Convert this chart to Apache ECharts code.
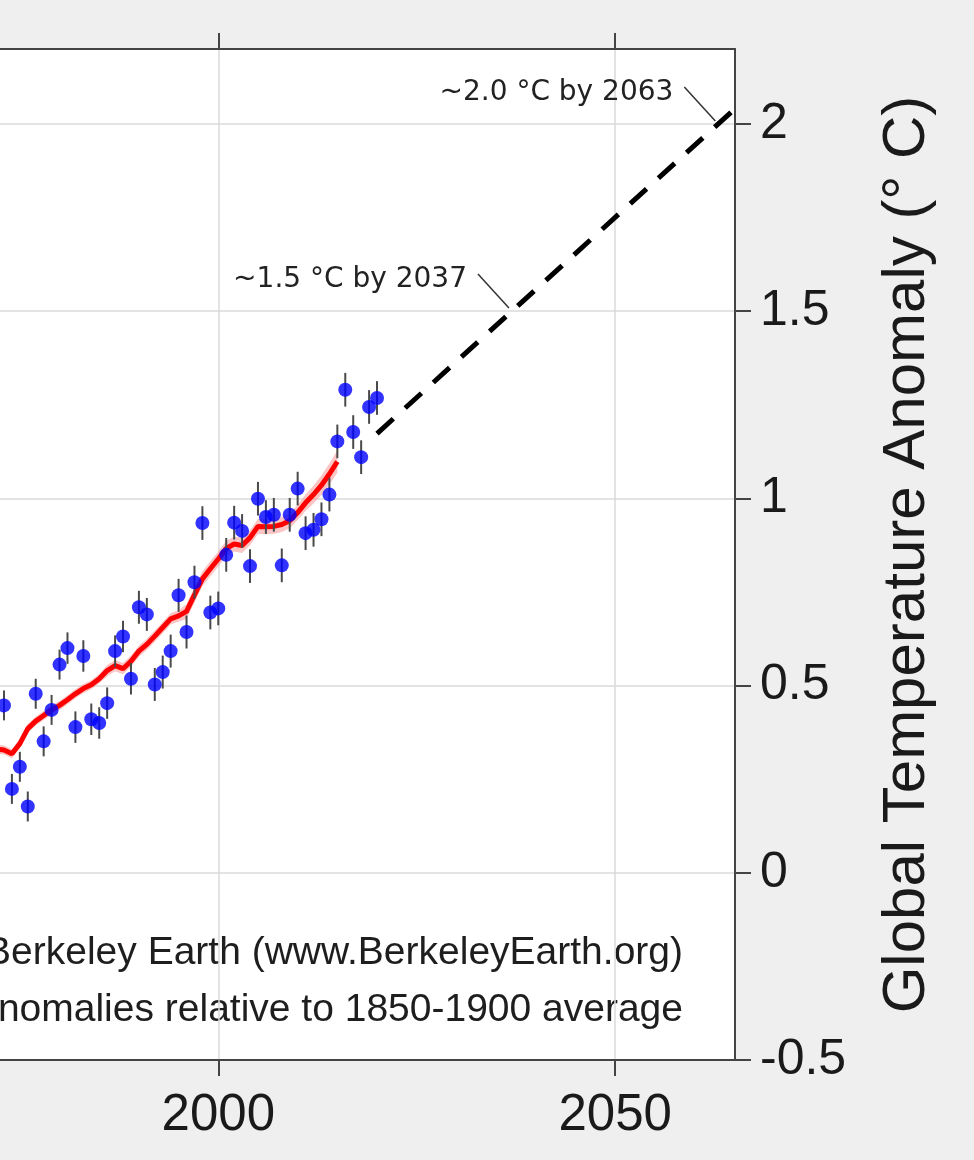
<!DOCTYPE html>
<html><head><meta charset="utf-8">
<script src="https://cdn.jsdelivr.net/npm/echarts@6/dist/echarts.min.js"></script>
<style>html,body{margin:0;padding:0;background:#efefef}#c{width:974px;height:1160px}</style>
</head><body><div id="c"></div>
<script>
// Annual anomalies (°C, relative to 1850-1900)
const years = [1973,1974,1975,1976,1977,1978,1979,1980,1981,1982,1983,1984,1985,1986,1987,1988,1989,1990,1991,1992,1993,1994,1995,1996,1997,1998,1999,2000,2001,2002,2003,2004,2005,2006,2007,2008,2009,2010,2011,2012,2013,2014,2015,2016,2017,2018,2019,2020];
const anomaly = [0.447,0.224,0.283,0.177,0.478,0.351,0.435,0.556,0.600,0.389,0.579,0.410,0.400,0.453,0.592,0.631,0.518,0.709,0.690,0.503,0.536,0.592,0.741,0.643,0.776,0.934,0.695,0.706,0.849,0.935,0.913,0.819,0.999,0.950,0.956,0.821,0.956,1.026,0.907,0.916,0.944,1.010,1.152,1.290,1.177,1.110,1.244,1.268];
const anomalyErr = [0.040,0.040,0.040,0.040,0.040,0.040,0.040,0.040,0.042,0.042,0.042,0.042,0.042,0.042,0.042,0.042,0.042,0.044,0.044,0.044,0.044,0.044,0.044,0.044,0.044,0.045,0.045,0.045,0.045,0.045,0.045,0.045,0.045,0.045,0.045,0.045,0.045,0.045,0.045,0.045,0.045,0.045,0.045,0.045,0.045,0.045,0.045,0.045];
// 10-year moving average and its uncertainty
const smoothYears = [1972,1973,1974,1975,1976,1977,1978,1979,1980,1981,1982,1983,1984,1985,1986,1987,1988,1989,1990,1991,1992,1993,1994,1995,1996,1997,1998,1999,2000,2001,2002,2003,2004,2005,2006,2007,2008,2009,2010,2011,2012,2013,2014,2015];
const smoothValues = [0.330,0.328,0.318,0.345,0.385,0.405,0.420,0.435,0.447,0.462,0.478,0.492,0.502,0.518,0.540,0.553,0.545,0.565,0.592,0.610,0.632,0.655,0.678,0.686,0.698,0.742,0.785,0.812,0.838,0.866,0.878,0.874,0.895,0.925,0.924,0.925,0.930,0.940,0.962,0.988,1.010,1.035,1.065,1.098];
const smoothUnc = [0.012,0.012,0.012,0.012,0.012,0.012,0.012,0.012,0.012,0.012,0.012,0.012,0.012,0.012,0.015,0.015,0.015,0.015,0.015,0.015,0.015,0.015,0.015,0.015,0.020,0.020,0.020,0.020,0.020,0.020,0.020,0.020,0.020,0.020,0.020,0.020,0.020,0.020,0.020,0.022,0.024,0.026,0.028,0.030];
// Projection
const projectionYears = [2020, 2066];
const projectionValues = [1.173, 2.058];
const milestoneYears = [2063, 2037];
const milestoneValues = [2.0, 1.5];
const milestoneLabels = ['~2.0 °C by 2063', '~1.5 °C by 2037'];
const xTickYears = [2000, 2050];
const noteLines = ['Berkeley Earth (www.BerkeleyEarth.org)', 'Temperature anomalies relative to 1850-1900 average'];
const yAxisTitle = 'Global Temperature Anomaly (° C)';

const FONT = '"Liberation Sans", Arial, Helvetica, sans-serif';
const chart = echarts.init(document.getElementById('c'));

const axisLineStyle = { color: '#444', width: 2 };
const tickStyle = { color: '#444', width: 2 };
const splitStyle = { color: '#dadada', width: 1.5 };
const X_MIN = 1972.5, X_MAX = 2065.1;

chart.setOption({
  backgroundColor: '#efefef',
  animation: false,
  grid: { left: 0, right: 239, top: 49, bottom: 100, show: true, backgroundColor: '#ffffff', borderWidth: 0, containLabel: false },
  xAxis: [{
    type: 'value', position: 'bottom', min: X_MIN, max: X_MAX,
    axisLine: { show: true, onZero: false, lineStyle: axisLineStyle },
    axisTick: { show: true, inside: false, length: 16, customValues: xTickYears, lineStyle: tickStyle },
    axisLabel: { show: true, customValues: xTickYears, margin: 30, fontSize: 51, fontFamily: FONT, color: '#1a1a1a',
      formatter: v => String(v) },
    splitLine: { show: true, lineStyle: splitStyle }
  }, {
    type: 'value', position: 'top', min: X_MIN, max: X_MAX,
    axisLine: { show: true, onZero: false, lineStyle: axisLineStyle },
    axisTick: { show: true, inside: false, length: 16, customValues: xTickYears, lineStyle: tickStyle },
    axisLabel: { show: false },
    splitLine: { show: false }
  }],
  yAxis: [{
    type: 'value', position: 'right', min: -0.5, max: 2.2, interval: 0.5,
    axisLine: { show: true, onZero: false, lineStyle: axisLineStyle },
    axisTick: { show: true, inside: false, length: 16, lineStyle: tickStyle },
    axisLabel: { show: true, showMaxLabel: false, margin: 25, fontSize: 50, fontFamily: FONT, color: '#1a1a1a',
      formatter: v => (Math.abs(v * 2 - Math.round(v * 2)) < 1e-6 ? String(v) : '') },
    splitLine: { show: true, lineStyle: splitStyle },
    name: yAxisTitle, nameLocation: 'middle', nameRotate: 90, nameGap: 142,
    nameTextStyle: { fontSize: 60, fontFamily: FONT, color: '#1a1a1a' }
  }],
  graphic: noteLines.map((t, i) => ({
    type: 'text', right: 291, top: 934 + i * 57,
    style: { text: t, font: '39px ' + FONT, fill: '#1e1e1e' }
  })),
  series: [
    {
      type: 'custom', name: 'band', z: 2,
      data: [[smoothYears[0], smoothValues[0]]],
      renderItem: (params, api) => {
        const pts = [];
        for (let i = 0; i < smoothYears.length; i++) pts.push(api.coord([smoothYears[i], smoothValues[i] + smoothUnc[i]]));
        for (let i = smoothYears.length - 1; i >= 0; i--) pts.push(api.coord([smoothYears[i], smoothValues[i] - smoothUnc[i]]));
        return { type: 'polygon', shape: { points: pts }, style: { fill: 'rgba(245,150,150,0.55)' } };
      }
    },
    {
      type: 'line', name: 'smooth', z: 3, showSymbol: false, symbol: 'none',
      data: smoothYears.map((y, i) => [y, smoothValues[i]]),
      lineStyle: { color: '#ff0000', width: 5 }
    },
    {
      type: 'custom', name: 'errors', z: 4,
      data: years.map((y, i) => [y, anomaly[i] - anomalyErr[i], anomaly[i] + anomalyErr[i]]),
      encode: { x: 0, y: [1, 2] },
      renderItem: (params, api) => {
        const p1 = api.coord([api.value(0), api.value(1)]);
        const p2 = api.coord([api.value(0), api.value(2)]);
        return { type: 'line', shape: { x1: p1[0], y1: p1[1], x2: p2[0], y2: p2[1] }, style: { stroke: '#4a4a4a', lineWidth: 2 } };
      }
    },
    {
      type: 'scatter', name: 'annual', z: 5, symbol: 'circle', symbolSize: 14,
      data: years.map((y, i) => [y, anomaly[i]]),
      itemStyle: { color: '#0000ff' }
    },
    {
      type: 'line', name: 'projection', z: 6, showSymbol: false, symbol: 'none',
      data: projectionYears.map((y, i) => [y, projectionValues[i]]),
      lineStyle: { color: '#000', width: 5, type: [22, 16] }
    },
    {
      type: 'custom', name: 'milestones', z: 7,
      data: milestoneYears.map((y, i) => [y, milestoneValues[i]]),
      renderItem: (params, api) => {
        const p = api.coord([api.value(0), api.value(1)]);
        return { type: 'group', children: [
          { type: 'line', shape: { x1: p[0] - 34, y1: p[1] - 37, x2: p[0] - 3, y2: p[1] - 3 }, style: { stroke: '#333', lineWidth: 1.5 } },
          { type: 'text', x: p[0] - 45, y: p[1] - 31, style: { text: milestoneLabels[params.dataIndex], font: '28px "DejaVu Sans", sans-serif', fill: '#222', align: 'right', verticalAlign: 'middle' } }
        ] };
      }
    }
  ]
});
</script>
</body></html>
